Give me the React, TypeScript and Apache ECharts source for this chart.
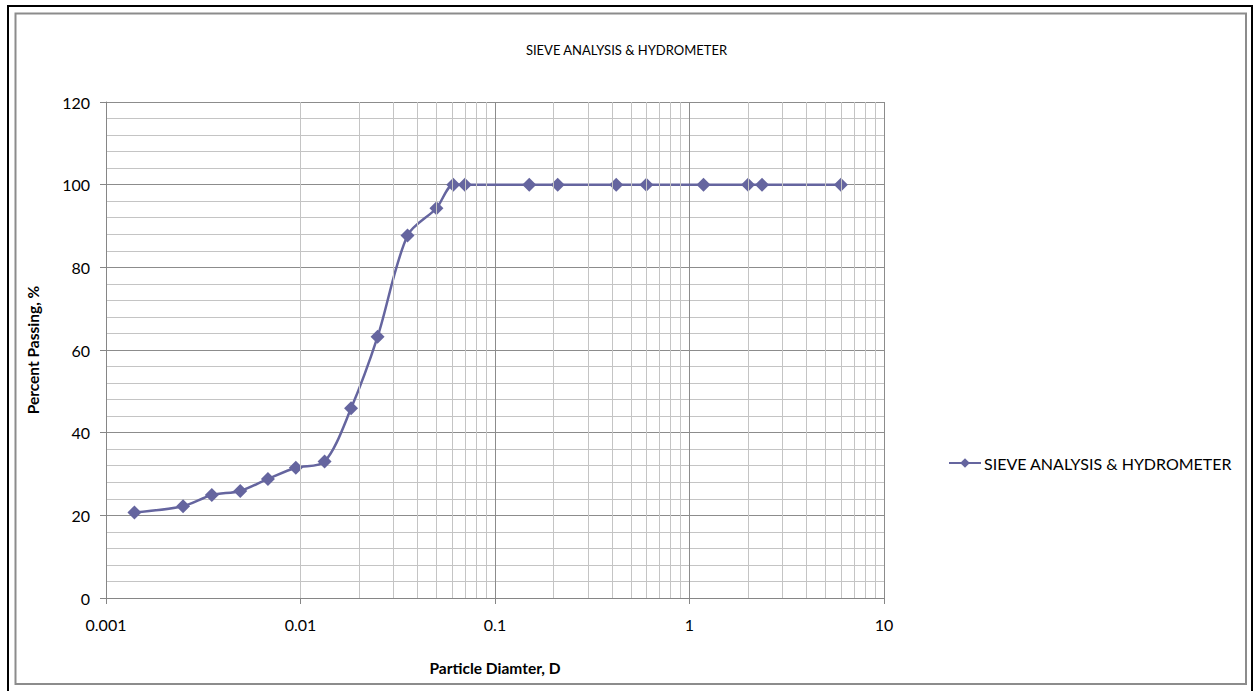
import React, { useEffect, useRef } from "react";
import * as echarts from "echarts";

const seriesName = "SIEVE ANALYSIS & HYDROMETER";
const diameters = [
  0.0014, 0.00249, 0.0035, 0.0049, 0.0068, 0.00946, 0.0133, 0.0182, 0.0249,
  0.0355, 0.05, 0.061, 0.07, 0.15, 0.21, 0.42, 0.6, 1.18, 2.0, 2.36, 6.0,
];
const percentPassing = [
  20.7, 22.2, 24.9, 25.9, 28.8, 31.5, 33.0, 45.9, 63.2, 87.7, 94.3, 100, 100,
  100, 100, 100, 100, 100, 100, 100, 100,
];
const decades = [0.001, 0.01, 0.1, 1];
const minorMultipliers = [2, 3, 4, 5, 6, 7, 8, 9];

const FONT = "Lato";

export default function App() {
  const ref = useRef<HTMLDivElement>(null);
  useEffect(() => {
    if (!ref.current) return;
    const chart = echarts.init(ref.current, undefined, { renderer: "svg" });
    const minorX: any[] = [];
    decades.forEach((d) =>
      minorMultipliers.forEach((m) => minorX.push({ xAxis: d * m }))
    );
    const points = diameters.map((d, i) => [d, percentPassing[i]]);
    chart.setOption({
      animation: false,
      backgroundColor: "#ffffff",
      textStyle: { fontFamily: FONT },
      title: {
        text: seriesName,
        left: "center",
        top: 38,
        textStyle: { fontFamily: FONT, fontSize: 13, fontWeight: "normal", color: "#000" },
      },
      legend: {
        data: [seriesName],
        left: 943,
        top: 450,
        itemWidth: 32,
        itemHeight: 12,
        itemGap: 4,
        textStyle: { fontFamily: FONT, fontSize: 16, color: "#000", padding: [0, 0, 0, -2] },
      },
      grid: { left: 106, top: 102, width: 778, height: 496, containLabel: false },
      xAxis: {
        type: "log",
        logBase: 10,
        min: 0.001,
        max: 10,
        name: "Particle Diamter, D",
        nameLocation: "middle",
        nameGap: 62,
        nameTextStyle: { fontFamily: FONT, fontSize: 15.5, fontWeight: "bold", color: "#000" },
        axisLine: { show: true, lineStyle: { color: "#868686", width: 1 } },
        axisTick: { show: true, length: 6, lineStyle: { color: "#868686" } },
        axisLabel: {
          margin: 18,
          fontFamily: FONT,
          fontSize: 16,
          color: "#000",
          formatter: (v: number) => String(Number(v.toPrecision(1))),
        },
        splitLine: { show: true, lineStyle: { color: "#8c8c8c", width: 1 } },
      },
      yAxis: {
        type: "value",
        min: 0,
        max: 120,
        interval: 20,
        name: "Percent Passing, %",
        nameLocation: "middle",
        nameGap: 65,
        nameTextStyle: { fontFamily: FONT, fontSize: 15.5, fontWeight: "bold", color: "#000" },
        axisLine: { show: true, lineStyle: { color: "#868686", width: 1 } },
        axisTick: { show: true, length: 6, lineStyle: { color: "#868686" } },
        axisLabel: { margin: 16, fontFamily: FONT, fontSize: 16, color: "#000" },
        splitLine: { show: true, lineStyle: { color: "#8c8c8c", width: 1 } },
        minorTick: { show: false, splitNumber: 5 },
        minorSplitLine: { show: true, lineStyle: { color: "#c4c4c4", width: 1 } },
      },
      series: [
        {
          name: "minorGrid",
          type: "line",
          data: [],
          silent: true,
          z: 1,
          markLine: {
            silent: true,
            symbol: "none",
            label: { show: false },
            lineStyle: { color: "#c4c4c4", width: 1, type: "solid" },
            data: minorX,
            animation: false,
          },
        },
        {
          name: seriesName,
          type: "line",
          data: points,
          smooth: 0.3,
          z: 3,
          symbol: "diamond",
          symbolSize: 14,
          itemStyle: { color: "#65659f" },
          lineStyle: { color: "#65659f", width: 2.5 },
        },
      ],
      graphic: [
        { type: "line", shape: { x1: 7, y1: 6, x2: 1253, y2: 6 }, style: { stroke: "#000", lineWidth: 2 }, z: -10 },
        { type: "line", shape: { x1: 8, y1: 5, x2: 8, y2: 691 }, style: { stroke: "#000", lineWidth: 2 }, z: -10 },
        { type: "line", shape: { x1: 1252, y1: 5, x2: 1252, y2: 691 }, style: { stroke: "#000", lineWidth: 2 }, z: -10 },
        {
          type: "rect",
          shape: { x: 15.5, y: 13.5, width: 1230.5, height: 670.5 },
          style: { fill: "none", stroke: "#8c8c8c", lineWidth: 2 },
          z: -10,
        },
      ],
    });
    return () => chart.dispose();
  }, []);
  return (
    <div
      ref={ref}
      style={{ position: "fixed", left: 0, top: 0, width: 1253, height: 691 }}
    />
  );
}
